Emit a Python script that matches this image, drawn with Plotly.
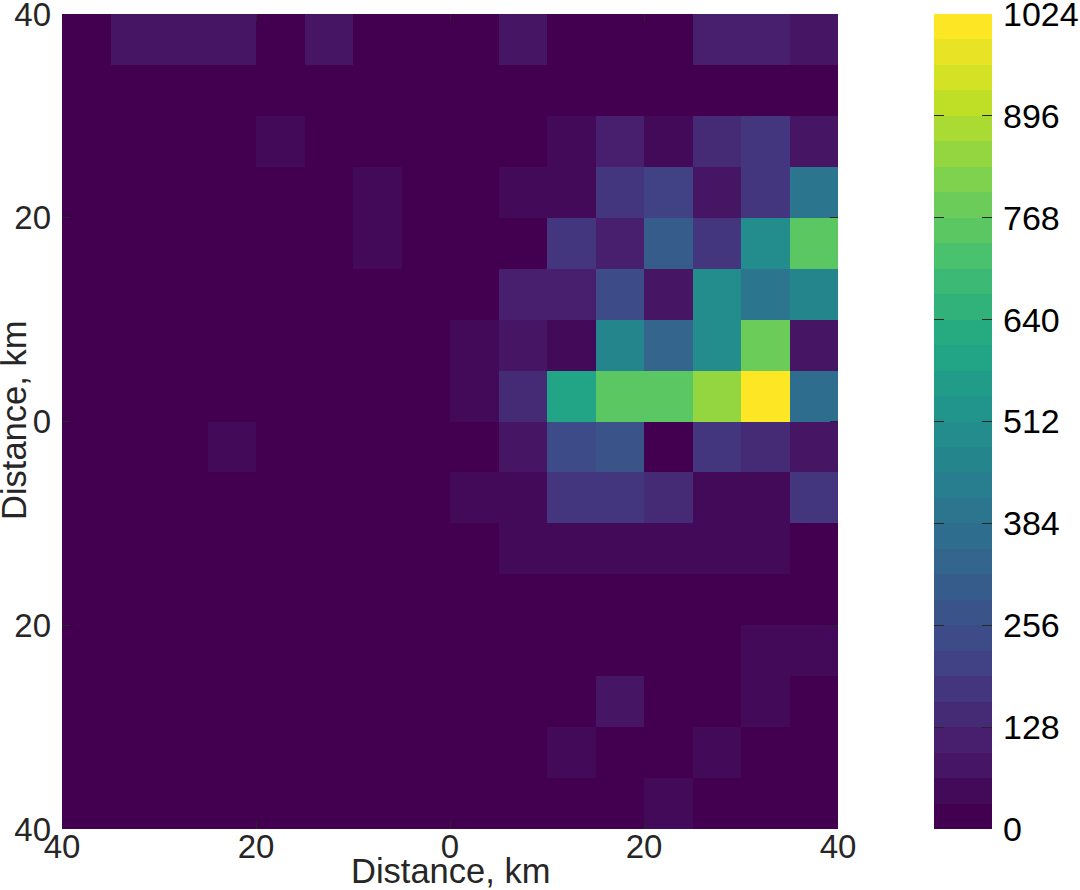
import numpy as np
import plotly.graph_objects as go
from plotly.colors import sample_colorscale

# Axis centres of the 16 x 16 spatial bins (km)
x_centers = [-37.5, -32.5, -27.5, -22.5, -17.5, -12.5, -7.5, -2.5, 2.5, 7.5, 12.5, 17.5, 22.5, 27.5, 32.5, 37.5]
y_centers = [37.5, 32.5, 27.5, 22.5, 17.5, 12.5, 7.5, 2.5, -2.5, -7.5, -12.5, -17.5, -22.5, -27.5, -32.5, -37.5]

# Counts per bin, one list per row from north to south
row_n37 = [0, 80, 80, 80, 0, 80, 0, 0, 0, 80, 0, 0, 0, 112, 112, 70]
row_n32 = [0, 0, 0, 0, 0, 0, 0, 0, 0, 0, 0, 0, 0, 0, 0, 0]
row_n27 = [0, 0, 0, 0, 60, 0, 0, 0, 0, 0, 60, 100, 60, 130, 170, 90]
row_n22 = [0, 0, 0, 0, 0, 0, 60, 0, 0, 60, 60, 165, 200, 80, 180, 390]
row_n17 = [0, 0, 0, 0, 0, 0, 60, 0, 0, 0, 165, 125, 300, 165, 500, 752]
row_n12 = [0, 0, 0, 0, 0, 0, 0, 0, 0, 125, 125, 225, 90, 500, 390, 465]
row_n7 = [0, 0, 0, 0, 0, 0, 0, 0, 60, 90, 50, 465, 335, 490, 790, 80]
row_n2 = [0, 0, 0, 0, 0, 0, 0, 0, 60, 130, 590, 750, 750, 860, 1024, 375]
row_s2 = [0, 0, 0, 60, 0, 0, 0, 0, 0, 90, 240, 280, 0, 160, 130, 80]
row_s7 = [0, 0, 0, 0, 0, 0, 0, 0, 50, 50, 170, 170, 140, 50, 50, 170]
row_s12 = [0, 0, 0, 0, 0, 0, 0, 0, 0, 50, 50, 50, 50, 50, 50, 0]
row_s17 = [0, 0, 0, 0, 0, 0, 0, 0, 0, 0, 0, 0, 0, 0, 0, 0]
row_s22 = [0, 0, 0, 0, 0, 0, 0, 0, 0, 0, 0, 0, 0, 0, 50, 50]
row_s27 = [0, 0, 0, 0, 0, 0, 0, 0, 0, 0, 0, 70, 0, 0, 50, 0]
row_s32 = [0, 0, 0, 0, 0, 0, 0, 0, 0, 0, 50, 0, 0, 50, 0, 0]
row_s37 = [0, 0, 0, 0, 0, 0, 0, 0, 0, 0, 0, 0, 50, 0, 0, 0]

counts = [row_n37, row_n32, row_n27, row_n22, row_n17, row_n12, row_n7, row_n2,
          row_s2, row_s7, row_s12, row_s17, row_s22, row_s27, row_s32, row_s37]

# Tick labels
distance_ticks = [-40, -20, 0, 20, 40]
distance_labels = ["40", "20", "0", "20", "40"]
count_ticks = [0, 128, 256, 384, 512, 640, 768, 896, 1024]
count_labels = ["0", "128", "256", "384", "512", "640", "768", "896", "1024"]
axis_title = "Distance, km"

# 32-step viridis-style map over the 0..1024 count range
VIRIDIS_STOPS = ["#430050", "#47206f", "#414487", "#355f8d", "#2a788e", "#21918c",
                 "#22a884", "#44bf70", "#7ad151", "#bddf26", "#fde725"]
N_STEPS = 32
Z_MAX = 1024
band_colors = sample_colorscale(VIRIDIS_STOPS, list(np.linspace(0, 1, N_STEPS)))
stepped_scale = []
for i, c in enumerate(band_colors):
    stepped_scale.append([i / N_STEPS, c])
    stepped_scale.append([(i + 1) / N_STEPS, c])

band_width = Z_MAX / N_STEPS
band_centers = list(np.arange(N_STEPS) * band_width + band_width / 2)

W, H = 1080, 890
FONT = "Liberation Sans"
INK = "#262626"

fig = go.Figure()
fig.add_trace(go.Heatmap(
    x=x_centers, y=y_centers, z=counts,
    colorscale=stepped_scale, zmin=0, zmax=Z_MAX, showscale=False,
    xaxis="x", yaxis="y",
))
# Colour key drawn as a one-column heatmap on its own axes, ticked on both edges
fig.add_trace(go.Heatmap(
    x=[0], y=band_centers, z=[[v] for v in band_centers],
    colorscale=stepped_scale, zmin=0, zmax=Z_MAX, showscale=False,
    xaxis="x2", yaxis="y2",
))

axis_common = dict(
    tickmode="array", tickvals=distance_ticks, ticktext=distance_labels,
    range=[-40, 40], ticks="inside", ticklen=8, tickwidth=1, tickcolor=INK,
    showgrid=False, zeroline=False, showline=False, mirror="ticks",
    automargin=False, ticklabeloverflow="allow",
    tickfont=dict(family=FONT, size=33, color=INK),
)

fig.update_layout(
    width=W, height=H,
    margin=dict(l=0, r=0, t=0, b=0),
    paper_bgcolor="white", plot_bgcolor="white",
    font=dict(family=FONT),
    xaxis=dict(domain=[62 / W, 838 / W], anchor="y", ticklabelstandoff=-5, **axis_common),
    yaxis=dict(domain=[(H - 829) / H, (H - 14) / H], anchor="x", ticklabelstandoff=10, **axis_common),
    xaxis2=dict(
        domain=[934 / W, 992 / W], anchor="y2",
        showticklabels=False, ticks="", showgrid=False, zeroline=False,
        range=[-0.5, 0.5], automargin=False,
    ),
    yaxis2=dict(
        domain=[(H - 829) / H, (H - 14) / H], anchor="x2", side="right",
        range=[0, Z_MAX], tickmode="array", tickvals=count_ticks, ticktext=count_labels,
        ticks="inside", ticklen=10, tickwidth=1, tickcolor=INK,
        mirror="ticks", showline=False, showgrid=False, zeroline=False,
        automargin=False, ticklabeloverflow="allow", ticklabelstandoff=10,
        tickfont=dict(family=FONT, size=34, color="black"),
    ),
    annotations=[
        dict(text=axis_title, xref="paper", yref="paper", x=450 / W, y=(H - 871) / H,
             xanchor="center", yanchor="middle", showarrow=False,
             font=dict(family=FONT, size=34.5, color=INK)),
        dict(text=axis_title, xref="paper", yref="paper", x=14 / W, y=(H - 421) / H,
             xanchor="center", yanchor="middle", textangle=-90, showarrow=False,
             font=dict(family=FONT, size=34.5, color=INK)),
    ],
)

fig.write_html("out.html")
